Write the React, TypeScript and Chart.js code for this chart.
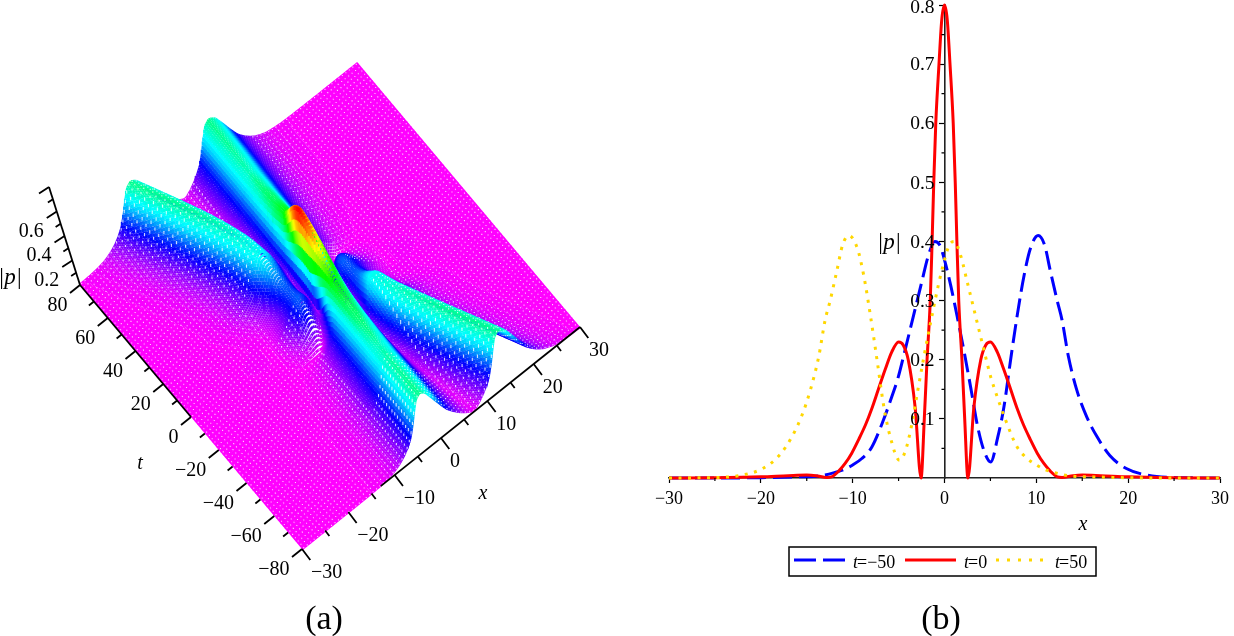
import React, { useEffect, useRef } from "react";
import { Chart, registerables } from "chart.js";

Chart.register(...registerables);

const FONT = '"Liberation Serif"';

// ---------- panel (b): profiles ----------
const blueX = [-30,-25,-20,-16,-14,-13,-12,-11,-10,-9,-7.91,-6.65,-5.75,-5.03,-4.3,-3.4,-2.5,-1.78,-1.06,-0.52,0.05,0.7,1.46,2.18,2.9,3.62,4.35,5.03,5.8,6.47,7.2,7.95,8.67,9.37,10.2,10.9,11.5,12.27,12.8,13.5,14.4,15.5,16.6,18,19.8,22,24.5,30];
const blueP = [0,0,0.0005,0.002,0.003,0.005,0.009,0.014,0.022,0.033,0.0525,0.098,0.137,0.171,0.216,0.273,0.33,0.375,0.4,0.394,0.366,0.324,0.267,0.21,0.149,0.086,0.044,0.027,0.069,0.12,0.2,0.278,0.343,0.389,0.41,0.394,0.352,0.3,0.267,0.205,0.149,0.103,0.07,0.038,0.016,0.005,0.001,0];
const redX = [-30,-25,-20,-17,-15,-14,-12.8,-12.3,-11.5,-10.8,-10.1,-9.35,-8.6,-7.9,-7.2,-6.47,-5.75,-5,-4.5,-3.95,-3.2,-2.55,-2.2,-1.9,-1.55,-1.35,-1.17,-0.95,-0.6,-0.3,0,0.3,0.6,0.95,1.17,1.35,1.55,1.9,2.2,2.55,3.2,3.95,4.5,5,5.75,6.47,7.2,7.9,8.6,9.35,10.1,10.8,11.5,12.3,12.8,14,15,17,20,25,30];
const redP = [0,0.0005,0.002,0.004,0.005,0.004,0.001,0.002,0.012,0.025,0.042,0.065,0.09,0.118,0.15,0.183,0.213,0.23,0.225,0.2,0.12,0,0.1,0.2,0.3,0.4,0.5,0.6,0.7,0.775,0.8,0.775,0.7,0.6,0.5,0.4,0.3,0.2,0.1,0,0.12,0.2,0.225,0.23,0.213,0.183,0.15,0.118,0.09,0.065,0.042,0.025,0.012,0.002,0.001,0.004,0.005,0.004,0.002,0.0005,0];
const goldX = [-30,-24.5,-22,-19.8,-18,-16.6,-15.6,-14.6,-13.7,-13,-12.45,-11.7,-11.1,-10.4,-9.5,-8.8,-8.1,-7.35,-6.6,-5.9,-4.9,-4.3,-3.62,-2.9,-2.18,-1.46,-0.7,-0.05,0.52,1.06,1.78,2.5,3.4,4.3,5.03,5.75,6.65,7.91,9,10,11,12,13,14,16,20,25,30];
const goldP = [0,0.001,0.005,0.016,0.038,0.07,0.103,0.149,0.205,0.267,0.3,0.352,0.394,0.41,0.389,0.343,0.278,0.2,0.12,0.069,0.03,0.044,0.086,0.149,0.21,0.267,0.324,0.366,0.394,0.4,0.375,0.33,0.273,0.216,0.171,0.137,0.098,0.0525,0.033,0.022,0.014,0.009,0.005,0.003,0.002,0.0005,0,0];
const seriesLabels = ["=\u221250", "=0", "=50"];
const xTicksB = [-30,-20,-10,0,10,20,30];
const yTicksB = [0.1,0.2,0.3,0.4,0.5,0.6,0.7,0.8];

// ---------- panel (a): surface readings ----------
const ridgeDistance = [0,1,2,3,4,5,6,7,8,9,10,12,14,16,20,60];
const ridgeShape = [0.41,0.385,0.31,0.23,0.16,0.115,0.08,0.054,0.036,0.022,0.014,0.005,0.002,0.001,0,0];
const tauKeys = [0,5,10,15,20,30,40,50,65,80];
const stationaryPos = [0,-0.1,-0.2,-0.3,-0.4,-0.6,-0.8,-1,-1.2,-1.3];
const stationaryAmp = [0.8,0.74,0.68,0.62,0.56,0.48,0.43,0.4,0.405,0.41];
const stationaryWidth = [0.5,0.55,0.6,0.7,0.8,0.9,0.95,1,1,1];
const movingPos = [5,5.2,5.3,5.5,5.8,6.9,8.5,10.2,12.9,15.6];
const movingAmp = [0.23,0.25,0.28,0.34,0.4,0.41,0.41,0.41,0.41,0.41];
const movingWidth = [0.65,0.7,0.8,0.9,1,1,1,1,1,1];
const echoAmp = [0.25,0.18,0.1,0.05,0,0,0,0,0,0];
const phaseRho = [0.99,0.99,0.99,0.95,0.9,0.9,0.9,0.9,0.9,0.9];
const redBlend = [1,0.55,0.22,0.05,0,0,0,0,0,0];
const hueLevels = [0,0.1,0.2,0.3,0.38,0.41,0.5,0.64,0.8];
const hueValues = [300,265,230,190,170,152,120,60,0];
const tTicks3d = [-80,-70,-60,-50,-40,-30,-20,-10,0,10,20,30,40,50,60,70,80];
const xTicks3d = [-30,-25,-20,-15,-10,-5,0,5,10,15,20,25,30];
const zTicks3d = [0.1,0.2,0.3,0.4,0.5,0.6,0.7,0.8];
const PMAX = 0.8;

function lerp(xs: number[], ys: number[], v: number) {
  if (v <= xs[0]) return ys[0];
  for (let i = 1; i < xs.length; i++) {
    if (v <= xs[i]) {
      const f = (v - xs[i - 1]) / (xs[i] - xs[i - 1]);
      return ys[i - 1] + f * (ys[i] - ys[i - 1]);
    }
  }
  return ys[ys.length - 1];
}
const shape = (d: number) => lerp(ridgeDistance, ridgeShape, Math.abs(d)) / 0.41;

function surfaceZ(x: number, t: number) {
  const u = t <= 0 ? x : -x;
  const tau = Math.abs(t);
  const k = (arr: number[]) => lerp(tauKeys, arr, tau);
  const c = k(stationaryAmp) * shape((u - k(stationaryPos)) / k(stationaryWidth));
  const b = k(movingAmp) * shape((u - k(movingPos)) / k(movingWidth));
  const e = k(echoAmp) * shape((u + 5) / 0.65);
  const rho = k(phaseRho);
  const m = Math.sqrt(Math.max(0, c * c + b * b + e * e - 2 * rho * (c * b + c * e)));
  const w = k(redBlend);
  return (1 - w) * m + w * lerp(redX, redP, x);
}

function project(x: number, t: number, z: number) {
  return {
    x: 330 + 4.6333 * x - 1.3875 * t - 38.75 * z,
    y: 306 - 3.7 * x - 1.65 * t - 122.5 * z,
  };
}

const hueColor = (z: number) => {
  const h = Math.round(lerp(hueLevels, hueValues, z) / 2) * 2;
  return `hsl(${h},100%,50%)`;
};

function rowDataset(t: number) {
  const data: { x: number; y: number }[] = [];
  const colors: string[] = [];
  for (let i = 0; i <= 200; i++) {
    const x = 30 - i * 0.3;
    const z = surfaceZ(x, t);
    data.push(project(x, t, z));
    colors.push(hueColor(z));
  }
  return {
    data,
    showLine: true,
    pointRadius: 0,
    borderWidth: 2.7,
    borderColor: "#ff00ff",
    segment: { borderColor: (ctx: any) => colors[ctx.p0DataIndex] },
  };
}

function holeDataset(t: number) {
  const data: { x: number; y: number }[] = [];
  const u0 = t <= 0 ? 1 : -1;
  for (let i = 79; i >= 0; i--) {
    const x = -29.625 + i * 0.75;
    const u = u0 * x;
    const tau = Math.abs(t);
    const nearStationary = Math.abs(u - lerp(tauKeys, stationaryPos, tau)) < 6 && t > -55;
    const nearMoving = tau < 22 && Math.abs(u - lerp(tauKeys, movingPos, tau)) < 6;
    const z = surfaceZ(x, t);
    if ((nearStationary || nearMoving) && z > 0.012) continue;
    const slope = (surfaceZ(x + 0.2, t) - surfaceZ(x - 0.2, t)) / 0.4;
    const h = 1.1 + 30 * Math.max(0, slope);
    const p = project(x, t, z);
    data.push({ x: p.x, y: p.y + h / 2 }, { x: p.x, y: p.y - h / 2 }, { x: p.x, y: NaN });
  }
  return {
    data,
    showLine: true,
    spanGaps: false,
    pointRadius: 0,
    borderWidth: 1.1,
    borderColor: "rgba(255,255,255,0.8)",
  };
}

function axisDataset(points: { x: number; y: number }[]) {
  return { data: points, showLine: true, spanGaps: false, pointRadius: 0, borderWidth: 1.8, borderColor: "#000" };
}

function buildPanelA() {
  const paint: any[] = [];
  const pending: number[] = [];
  for (let t = 80; t >= -80; t--) {
    paint.push(rowDataset(t));
    if (t % 2 === 0) pending.push(t);
    if (pending.length && pending[0] - t >= 3) paint.push(holeDataset(pending.shift() as number));
  }
  pending.forEach((t) => paint.push(holeDataset(t)));

  const tickPts: { x: number; y: number }[] = [];
  const addTick = (p: { x: number; y: number }, dx: number, dy: number) => {
    tickPts.push({ x: p.x + dx, y: p.y + dy }, p, { x: p.x, y: NaN });
  };
  tTicks3d.forEach((t) => {
    const major = t % 20 === 0;
    addTick(project(-30, t, 0), major ? -10 : -5, major ? 8 : 4);
  });
  xTicks3d.forEach((x) => {
    const major = x % 10 === 0;
    addTick(project(x, -80, 0), major ? 8.3 : 4.2, major ? 11 : 5.5);
  });
  zTicks3d.forEach((z) => {
    const major = Math.round(z * 10) % 2 === 0;
    addTick(project(-30, 80, z), major ? -10 : -5, major ? 6.6 : 3.3);
  });
  paint.push(axisDataset(tickPts));
  paint.push(axisDataset([project(-30, 0, 0), project(-30, 80, 0)]));
  paint.push(axisDataset([project(30, -80, 0), project(-13, -80, 0)]));
  paint.push(axisDataset([project(-30, 80, 0), project(-30, 80, PMAX)]));
  return paint.reverse();
}

const panelALabels = {
  id: "panelALabels",
  afterDraw(chart: any) {
    const ctx = chart.ctx;
    ctx.save();
    ctx.fillStyle = "#000";
    ctx.textBaseline = "middle";
    ctx.font = `20px ${FONT}`;
    ctx.textAlign = "right";
    tTicks3d.filter((t) => t % 20 === 0).forEach((t) => {
      const p = project(-30, t, 0);
      ctx.fillText(t < 0 ? `\u2212${-t}` : `${t}`, p.x - 12.5, p.y + 21);
    });
    [0.2, 0.4, 0.6].forEach((z) => {
      const p = project(-30, 80, z);
      ctx.fillText(z.toFixed(1), p.x - 13, p.y + 20);
    });
    ctx.textAlign = "left";
    xTicks3d.filter((x) => x % 10 === 0).forEach((x) => {
      const p = project(x, -80, 0);
      ctx.fillText(x < 0 ? `\u2212${-x}` : `${x}`, p.x + 9, p.y + 24);
    });
    ctx.textAlign = "center";
    ctx.font = `italic 20px ${FONT}`;
    ctx.fillText("x", 483, 494);
    ctx.fillText("t", 140, 464);
    ctx.font = `italic 23px ${FONT}`;
    ctx.fillText("|p|", 10, 278);
    ctx.font = `34px ${FONT}`;
    ctx.fillText("(a)", 324, 620);
    ctx.restore();
  },
};

const panelBExtras = {
  id: "panelBExtras",
  afterDraw(chart: any) {
    const ctx = chart.ctx;
    const { x: sx, y: sy } = chart.scales;
    const ox = 640;
    ctx.save();
    ctx.strokeStyle = "#000";
    ctx.lineWidth = 1.2;
    ctx.beginPath();
    for (let v = -25; v <= 25; v += 10) {
      const px = sx.getPixelForValue(v);
      ctx.moveTo(px, sy.bottom);
      ctx.lineTo(px, sy.bottom + 3);
    }
    const x0 = sx.getPixelForValue(0);
    for (let i = 0; i < 8; i++) {
      const py = sy.getPixelForValue(0.05 + i * 0.1);
      ctx.moveTo(x0, py);
      ctx.lineTo(x0 - 3, py);
    }
    ctx.stroke();

    ctx.fillStyle = "#000";
    ctx.textBaseline = "middle";
    ctx.textAlign = "right";
    ctx.font = `19.5px ${FONT}`;
    yTicksB.forEach((v) => {
      ctx.fillText(v.toFixed(1), x0 - 10, sy.getPixelForValue(v) + (v === 0.8 ? 3 : 1));
    });

    ctx.textAlign = "center";
    ctx.font = `italic 23px ${FONT}`;
    ctx.fillText("|p|", 889 - ox, 243);
    ctx.font = `italic 20px ${FONT}`;
    ctx.fillText("x", 1083 - ox, 525);

    // legend box
    ctx.fillStyle = "#fff";
    ctx.fillRect(789 - ox, 547, 307, 29);
    ctx.strokeStyle = "#000";
    ctx.lineWidth = 1.5;
    ctx.strokeRect(789 - ox, 547, 307, 29);
    const ds = chart.data.datasets;
    const samples = [
      { from: 794, to: 845, text: 853 },
      { from: 905, to: 956, text: 964 },
      { from: 996, to: 1043, text: 1055 },
    ];
    samples.forEach((s, i) => {
      ctx.save();
      ctx.strokeStyle = ds[i].borderColor;
      ctx.lineWidth = 3;
      ctx.setLineDash(i === 0 ? [22, 7] : i === 2 ? [3, 8] : []);
      ctx.beginPath();
      ctx.moveTo(s.from - ox, 560);
      ctx.lineTo(s.to - ox, 560);
      ctx.stroke();
      ctx.restore();
      ctx.fillStyle = "#000";
      ctx.textAlign = "left";
      ctx.textBaseline = "alphabetic";
      ctx.font = `italic 18px ${FONT}`;
      ctx.fillText("t", s.text - ox, 568);
      const w = ctx.measureText("t").width;
      ctx.font = `18px ${FONT}`;
      ctx.fillText(seriesLabels[i], s.text - ox + w - 1, 568);
    });
    ctx.textAlign = "center";
    ctx.font = `34px ${FONT}`;
    ctx.textBaseline = "middle";
    ctx.fillText("(b)", 941 - ox, 620);
    ctx.restore();
  },
};

const toPoints = (xs: number[], ys: number[]) => xs.map((x, i) => ({ x, y: ys[i] }));

export default function App() {
  const refA = useRef<HTMLCanvasElement | null>(null);
  const refB = useRef<HTMLCanvasElement | null>(null);

  useEffect(() => {
    const a = new Chart(refA.current as HTMLCanvasElement, {
      type: "scatter",
      data: { datasets: buildPanelA() },
      options: {
        animation: false,
        responsive: false,
        events: [],
        layout: { padding: 0 },
        plugins: { legend: { display: false }, tooltip: { enabled: false } },
        scales: {
          x: { type: "linear", display: false, min: 0, max: 640 },
          y: { type: "linear", display: false, min: 0, max: 636, reverse: true },
        },
      },
      plugins: [panelALabels],
    } as any);

    const line = { showLine: true, pointRadius: 0, borderWidth: 3, cubicInterpolationMode: "monotone", clip: false };
    const b = new Chart(refB.current as HTMLCanvasElement, {
      type: "scatter",
      data: {
        datasets: [
          { ...line, label: "t=-50", data: toPoints(blueX, blueP), borderColor: "#0000ff", borderDash: [19, 7], order: 3 },
          { ...line, label: "t=0", data: toPoints(redX, redP), borderColor: "#ff0000", order: 2 },
          { ...line, label: "t=50", data: toPoints(goldX, goldP), borderColor: "#ffd700", borderDash: [3, 6.5], order: 1 },
        ],
      },
      options: {
        animation: false,
        responsive: false,
        events: [],
        layout: { padding: { left: 29, right: 10, top: 5, bottom: 0 } },
        plugins: { legend: { display: false }, tooltip: { enabled: false } },
        scales: {
          x: {
            type: "linear",
            min: -30,
            max: 30,
            afterFit: (s: any) => { s.height = 158; },
            afterBuildTicks: (s: any) => { s.ticks = xTicksB.map((value) => ({ value })); },
            border: { color: "#222", width: 1.6 },
            grid: { drawOnChartArea: false, tickLength: 5, tickColor: "#000", tickWidth: 1.2 },
            ticks: {
              autoSkip: false,
              maxRotation: 0,
              padding: 5,
              color: "#000",
              font: { family: "Liberation Serif", size: 18 },
              callback: (v: any) => (v < 0 ? `\u2212${-v}` : `${v}`),
            },
          },
          y: {
            type: "linear",
            min: 0,
            max: 0.8,
            position: { x: 0 },
            afterBuildTicks: (s: any) => { s.ticks = yTicksB.map((value) => ({ value })); },
            border: { color: "#222", width: 1.6 },
            grid: { drawOnChartArea: false, tickLength: 5, tickColor: "#000", tickWidth: 1.2 },
            ticks: { display: false },
          },
        },
      },
      plugins: [panelBExtras],
    } as any);

    return () => {
      a.destroy();
      b.destroy();
    };
  }, []);

  return (
    <div style={{ position: "absolute", left: 0, top: 0, width: 1234, height: 636, background: "#fff", overflow: "hidden" }}>
      <canvas ref={refA} width={640} height={636} style={{ position: "absolute", left: 0, top: 0 }} />
      <canvas ref={refB} width={594} height={636} style={{ position: "absolute", left: 640, top: 0 }} />
    </div>
  );
}
